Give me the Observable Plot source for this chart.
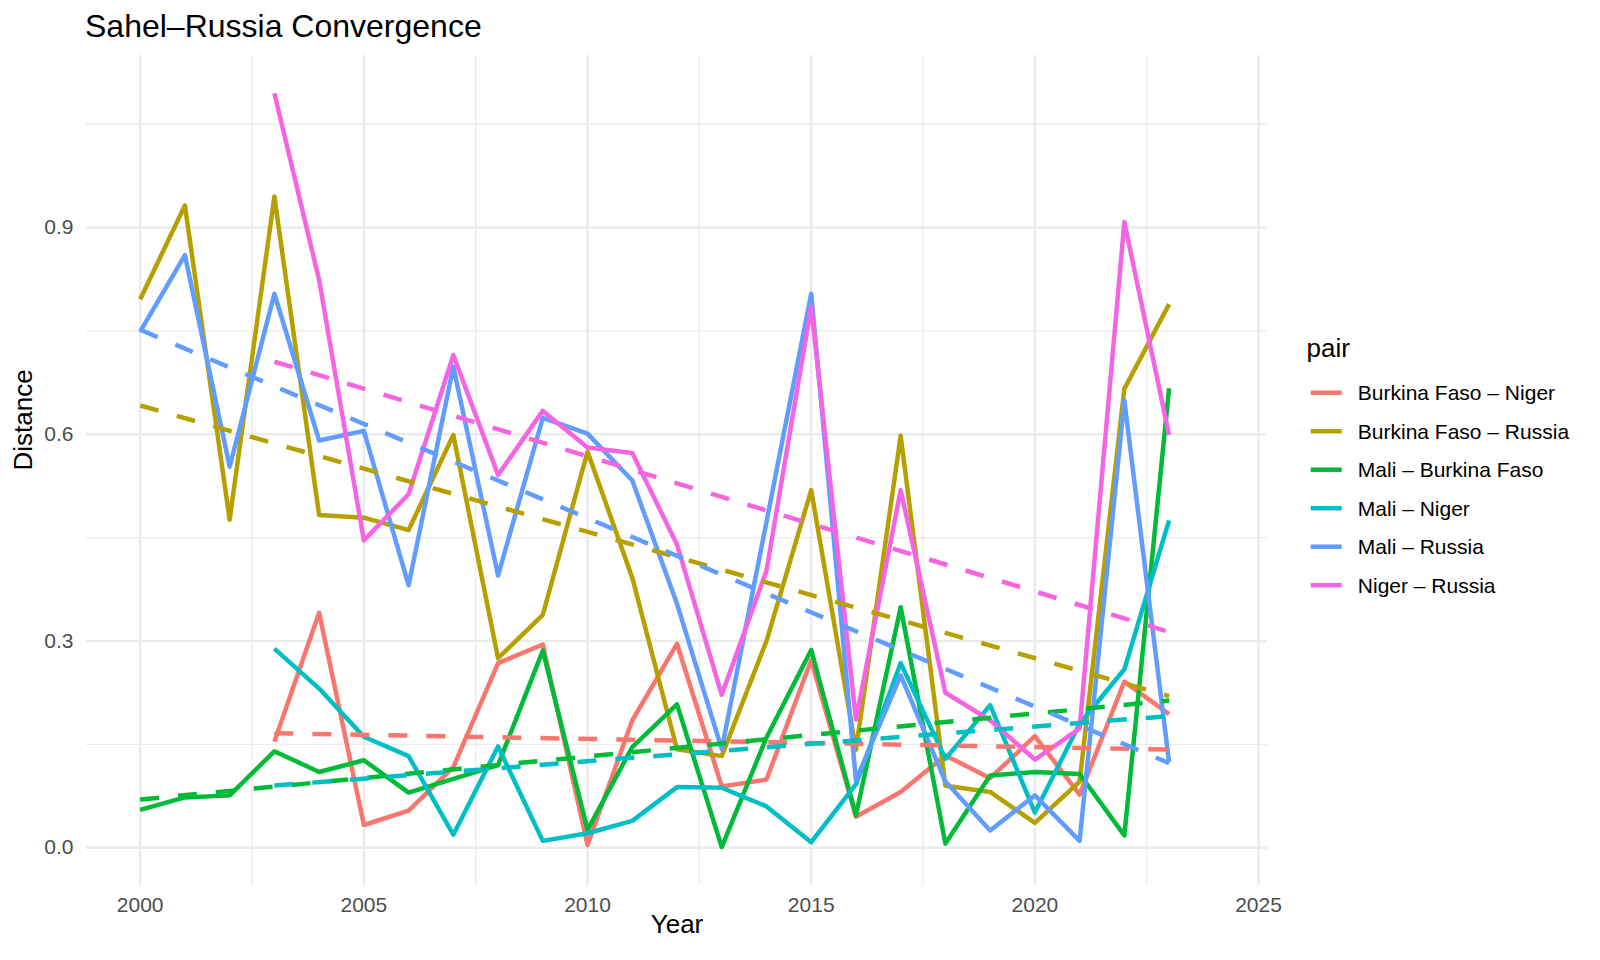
<!DOCTYPE html>
<html>
<head>
<meta charset="utf-8">
<script src="https://cdn.jsdelivr.net/npm/d3@7"></script>
<script src="https://cdn.jsdelivr.net/npm/@observablehq/plot@0.6"></script>
<style>
html, body { margin: 0; padding: 0; background: #ffffff; }
#wrap { position: relative; width: 1600px; height: 960px; overflow: hidden; font-family: "Liberation Sans", Arial, sans-serif; }
#wrap svg { position: absolute; left: 0; top: 0; }
</style>
</head>
<body>
<div id="wrap"></div>
<script>
const years = [2000, 2001, 2002, 2003, 2004, 2005, 2006, 2007, 2008, 2009, 2010, 2011,
               2012, 2013, 2014, 2015, 2016, 2017, 2018, 2019, 2020, 2021, 2022, 2023];

const pairs = ["Burkina Faso – Niger", "Burkina Faso – Russia", "Mali – Burkina Faso",
               "Mali – Niger", "Mali – Russia", "Niger – Russia"];
const colors = ["#F8766D", "#B79F00", "#00BA38", "#00BFC4", "#619CFF", "#F564E3"];

const bfNiger = [null, null, null, 0.154, 0.341, 0.033, 0.054, 0.117, 0.268, 0.295, 0.004, 0.185,
                 0.296, 0.089, 0.099, 0.272, 0.045, 0.081, 0.134, 0.101, 0.162, 0.077, 0.241, 0.194];
const bfRussia = [0.796, 0.932, 0.476, 0.945, 0.483, 0.479, 0.461, 0.599, 0.275, 0.338, 0.575, 0.392,
                  0.143, 0.133, 0.300, 0.519, 0.142, 0.598, 0.090, 0.081, 0.036, 0.096, 0.666, 0.789];
const maliBf = [0.055, 0.073, 0.076, 0.140, 0.110, 0.127, 0.080, 0.100, 0.120, 0.286, 0.026, 0.146,
                0.208, 0.001, 0.160, 0.287, 0.047, 0.349, 0.006, 0.105, 0.110, 0.107, 0.018, 0.667];
const maliNiger = [null, null, null, 0.289, 0.231, 0.161, 0.133, 0.019, 0.147, 0.010, 0.021, 0.039,
                   0.088, 0.087, 0.060, 0.008, 0.092, 0.268, 0.129, 0.207, 0.051, 0.180, 0.259, 0.475];
const maliRussia = [0.749, 0.860, 0.553, 0.804, 0.591, 0.605, 0.381, 0.698, 0.395, 0.624, 0.601, 0.533,
                    0.354, 0.143, 0.473, 0.804, 0.098, 0.250, 0.096, 0.025, 0.076, 0.010, 0.649, 0.124];
const nigerRussia = [null, null, null, 1.095, 0.824, 0.446, 0.513, 0.715, 0.541, 0.634, 0.581, 0.573,
                     0.440, 0.222, 0.402, 0.785, 0.186, 0.519, 0.225, 0.185, 0.128, 0.173, 0.908, 0.599];

const xTicks = [2000, 2005, 2010, 2015, 2020, 2025];
const xMinor = [2002.5, 2007.5, 2012.5, 2017.5, 2022.5];
const yTicks = [0, 0.3, 0.6, 0.9];
const yMinor = [0.15, 0.45, 0.75, 1.05];

const titleText = "Sahel–Russia Convergence";
const xTitle = "Year";
const yTitle = "Distance";
const legendTitle = "pair";

const seriesValues = [bfNiger, bfRussia, maliBf, maliNiger, maliRussia, nigerRussia];
const rows = [];
pairs.forEach((p, i) => {
  years.forEach((yr, j) => {
    const v = seriesValues[i][j];
    if (v != null) rows.push({pair: p, year: yr, distance: v});
  });
});

const FONT = '"Liberation Sans", Arial, sans-serif';
const grid = "#EBEBEB";

const chart = Plot.plot({
  width: 1600,
  height: 960,
  marginLeft: 86,
  marginRight: 333,
  marginTop: 55,
  marginBottom: 75,
  style: {fontFamily: FONT, background: "#ffffff", color: "#000000"},
  x: {domain: [1998.8, 2025.2]},
  y: {domain: [-0.0548, 1.1498]},
  color: {domain: pairs, range: colors},
  marks: [
    Plot.ruleX(xMinor, {stroke: grid, strokeWidth: 1.3}),
    Plot.ruleY(yMinor, {stroke: grid, strokeWidth: 1.3}),
    Plot.ruleX(xTicks, {stroke: grid, strokeWidth: 2.5}),
    Plot.ruleY(yTicks, {stroke: grid, strokeWidth: 2.5}),
    Plot.line(rows, {x: "year", y: "distance", z: "pair", stroke: "pair",
                     strokeWidth: 4.5, strokeLinecap: "butt", strokeLinejoin: "round"}),
    Plot.linearRegressionY(rows, {x: "year", y: "distance", stroke: "pair", ci: 0,
                     strokeWidth: 4.5, strokeDasharray: "19,19", strokeLinecap: "butt"}),
    Plot.axisX({ticks: xTicks, tickSize: 0, tickPadding: 12, fontSize: 21, color: "#4D4D4D",
                tickFormat: d => String(d), label: null}),
    Plot.axisY({ticks: yTicks, tickSize: 0, tickPadding: 13, fontSize: 21, color: "#4D4D4D",
                tickFormat: d3.format(".1f"), label: null}),
    Plot.text([xTitle], {frameAnchor: "bottom", dy: 47, fontSize: 26, fill: "#000000"}),
    Plot.text([yTitle], {frameAnchor: "left", dx: -63, rotate: -90, fontSize: 26, fill: "#000000"}),
    Plot.text([titleText], {frameAnchor: "top-left", dx: -1.5, dy: -19, textAnchor: "start",
                            lineAnchor: "bottom", fontSize: 32, fill: "#000000"})
  ]
});

const wrap = document.getElementById("wrap");
wrap.appendChild(chart);

// legend
const leg = d3.select(wrap).append("svg")
  .attr("width", 1600).attr("height", 960)
  .style("font-family", FONT)
  .style("pointer-events", "none");
leg.append("text").attr("x", 1306.6).attr("y", 357).attr("font-size", 26)
  .attr("fill", "#000000").text(legendTitle);
pairs.forEach((p, i) => {
  const cy = 392.7 + i * 38.5;
  leg.append("line").attr("x1", 1310.7).attr("x2", 1341.7).attr("y1", cy).attr("y2", cy)
    .attr("stroke", colors[i]).attr("stroke-width", 4.5);
  leg.append("text").attr("x", 1357.8).attr("y", cy + 7.5).attr("font-size", 21)
    .attr("fill", "#000000").text(p);
});
</script>
</body>
</html>
